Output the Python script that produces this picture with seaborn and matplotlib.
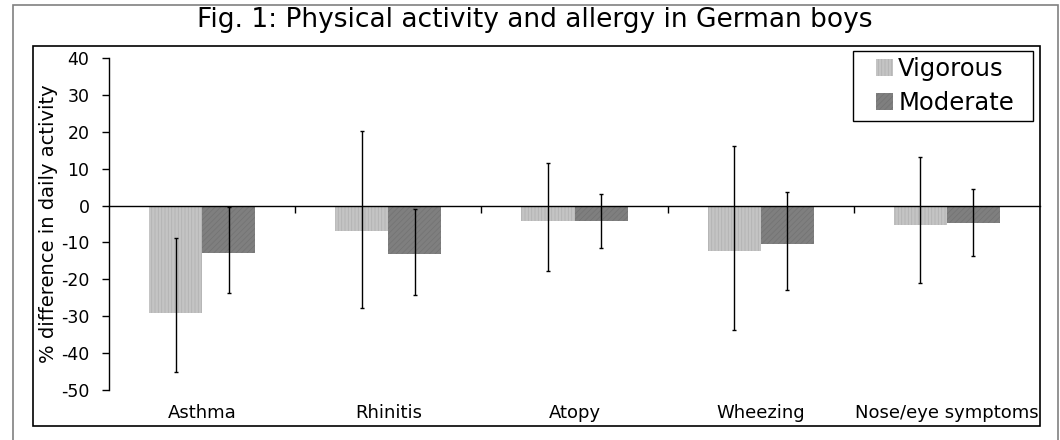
import pandas as pd
import matplotlib
matplotlib.use('Agg')
import matplotlib.pyplot as plt
from matplotlib.patches import Rectangle
import seaborn as sns

conditions = ['Asthma', 'Rhinitis', 'Atopy', 'Wheezing', 'Nose/eye symptoms']
vigorous = [-29.1, -6.8, -4.2, -12.3, -5.3]
vigorous_lo = [-45.1, -27.8, -17.8, -33.7, -21.0]
vigorous_hi = [-8.8, 20.3, 11.5, 16.1, 13.1]
moderate = [-12.8, -13.1, -4.3, -10.4, -4.8]
moderate_lo = [-23.7, -24.3, -11.5, -22.9, -13.7]
moderate_hi = [-0.4, -1.0, 3.0, 3.7, 4.5]

df = pd.DataFrame({
    'condition': conditions * 2,
    'activity': ['Vigorous'] * 5 + ['Moderate'] * 5,
    'value': vigorous + moderate,
})

sns.set_style('white')
plt.rcParams['font.family'] = ['DejaVu Sans']
plt.rcParams['axes.unicode_minus'] = False
plt.rcParams['text.color'] = 'black'
plt.rcParams['axes.labelcolor'] = 'black'
plt.rcParams['hatch.linewidth'] = 0.6

fig = plt.figure(figsize=(10.6, 4.4), dpi=100)
ax = fig.add_axes([109 / 1060, 1 - 390 / 440, 931 / 1060, 332 / 440])

# frames around the chart
fig.patches.append(Rectangle((13 / 1060, -0.05), 1045 / 1060, 1 - 5 / 440 + 0.05,
                             transform=fig.transFigure, fill=False,
                             edgecolor='#808080', lw=1.2))
fig.patches.append(Rectangle((33 / 1060, 1 - 426 / 440), 1007 / 1060, 380 / 440,
                             transform=fig.transFigure, fill=False,
                             edgecolor='black', lw=1.2))
# legend box
fig.patches.append(Rectangle((853 / 1060, 1 - 121 / 440), 180 / 1060, 70 / 440,
                             transform=fig.transFigure, facecolor='white',
                             edgecolor='black', lw=1, zorder=4))

sns.barplot(data=df, x='condition', y='value', hue='activity',
            palette=['#c4c4c4', '#7f7f7f'], width=0.57, errorbar=None,
            linewidth=0, ax=ax, legend=False)

styles = [('#b2b2b2', '|||||'), ('#747474', '//////')]
for cont, (hc, hatch) in zip(ax.containers, styles):
    for p in cont:
        p.set_hatch(hatch)
        p.set_edgecolor(hc)
        p.set_linewidth(0)

series = [(vigorous, vigorous_lo, vigorous_hi), (moderate, moderate_lo, moderate_hi)]
for cont, (vals, lo, hi) in zip(ax.containers, series):
    xs = [p.get_x() + p.get_width() / 2 for p in cont]
    yerr = [[v - l for v, l in zip(vals, lo)], [h - v for v, h in zip(vals, hi)]]
    ax.errorbar(xs, vals, yerr=yerr, fmt='none', ecolor='black',
                elinewidth=1, capsize=1.2, capthick=1)

ax.set_ylim(-50, 40)
ax.set_xlim(-0.5, 4.5)
ax.set_yticks(range(-50, 41, 10))
ax.tick_params(axis='y', direction='out', length=5, width=1, pad=9,
               labelsize=12.5, colors='black', left=True)
ax.set_ylabel('% difference in daily activity', fontsize=14)
ax.yaxis.set_label_coords(-0.055, 0.5)
ax.set_xlabel('')

for s in ['top', 'right']:
    ax.spines[s].set_visible(False)
ax.spines['left'].set_color('black')
ax.spines['left'].set_linewidth(1)
ax.spines['bottom'].set_position(('data', 0))
ax.spines['bottom'].set_color('black')
ax.spines['bottom'].set_linewidth(1)
ax.set_xticks([0.5, 1.5, 2.5, 3.5])
ax.set_xticklabels([])
ax.tick_params(axis='x', direction='out', length=5, width=1, bottom=True,
               colors='black')

sec = ax.secondary_xaxis('bottom')
sec.set_xticks(range(len(conditions)), labels=conditions)
sec.tick_params(length=0, pad=10, labelsize=13, labelcolor='black')
sec.spines['bottom'].set_visible(False)

handles = [ax.containers[0][0], ax.containers[1][0]]
leg = fig.legend(handles=handles, labels=['Vigorous', 'Moderate'],
                 loc='center', bbox_to_anchor=(945 / 1060, 1 - 86 / 440),
                 fontsize=17.5, frameon=False,
                 handlelength=0.72, handleheight=0.72, handletextpad=0.2,
                 borderpad=0, labelspacing=0.4, borderaxespad=0)
leg.set_zorder(5)

fig.text(535 / 1060, 1 - 20 / 440, 'Fig. 1: Physical activity and allergy in German boys',
         ha='center', va='center', fontsize=19)

fig.savefig('out.png', dpi=100)
